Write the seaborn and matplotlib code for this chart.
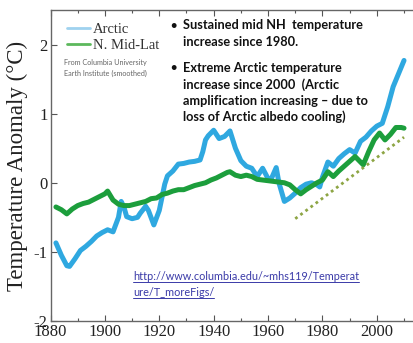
import numpy as np
import pandas as pd
import seaborn as sns
import matplotlib.pyplot as plt
from matplotlib.ticker import MultipleLocator

# ── Data ─────────────────────────────────────────────────────────────────────

arctic_years = [1882, 1884, 1886, 1887, 1889, 1891, 1893, 1895, 1897, 1899,
                1901, 1903, 1905, 1906, 1907, 1908, 1910, 1912, 1913, 1915,
                1916, 1918, 1920, 1922, 1923, 1925, 1927, 1929, 1931, 1933,
                1935, 1936, 1937, 1938, 1940, 1942, 1944, 1946, 1948, 1950,
                1952, 1954, 1956, 1958, 1960, 1961, 1963, 1964, 1966, 1968,
                1970, 1972, 1974, 1976, 1978, 1979, 1980, 1982, 1984, 1986,
                1988, 1990, 1992, 1994, 1996, 1998, 2000, 2002, 2004, 2006,
                2008, 2010]
arctic_vals = [-0.87, -1.05, -1.20, -1.21, -1.10, -0.98, -0.92, -0.85, -0.77, -0.72,
               -0.68, -0.71, -0.50, -0.27, -0.35, -0.49, -0.52, -0.50, -0.44, -0.34,
               -0.40, -0.61, -0.40, -0.02, 0.10, 0.17, 0.27, 0.28, 0.30, 0.31,
               0.33, 0.45, 0.62, 0.68, 0.76, 0.64, 0.67, 0.75, 0.50, 0.32,
               0.24, 0.21, 0.09, 0.21, 0.06, 0.04, 0.22, 0.00, -0.27, -0.22,
               -0.15, -0.07, -0.02, 0.00, -0.03, -0.06, 0.08, 0.30, 0.24, 0.35,
               0.42, 0.48, 0.43, 0.60, 0.66, 0.75, 0.82, 0.86, 1.10, 1.39,
               1.58, 1.77]

midlat_years = [1882, 1884, 1886, 1888, 1890, 1892, 1894, 1896, 1898, 1900,
                1901, 1903, 1905, 1907, 1909, 1911, 1913, 1915, 1917, 1919,
                1921, 1923, 1925, 1927, 1929, 1931, 1933, 1935, 1937, 1939,
                1941, 1943, 1945, 1946, 1948, 1950, 1952, 1954, 1956, 1958,
                1960, 1962, 1964, 1966, 1968, 1970, 1972, 1974, 1976, 1978,
                1980, 1982, 1984, 1986, 1988, 1990, 1992, 1994, 1995, 1997,
                1999, 2001, 2003, 2005, 2007, 2009, 2010]
midlat_vals = [-0.35, -0.39, -0.45, -0.38, -0.33, -0.30, -0.28, -0.24, -0.20, -0.16,
               -0.12, -0.25, -0.31, -0.33, -0.33, -0.31, -0.29, -0.27, -0.23, -0.22,
               -0.17, -0.15, -0.12, -0.10, -0.10, -0.07, -0.04, -0.02, 0.00, 0.04,
               0.07, 0.11, 0.15, 0.16, 0.11, 0.09, 0.11, 0.09, 0.05, 0.04,
               0.03, 0.02, 0.01, 0.00, -0.03, -0.10, -0.16, -0.10, -0.05, 0.00,
               0.04, 0.16, 0.09, 0.17, 0.24, 0.31, 0.38, 0.30, 0.26, 0.45,
               0.62, 0.72, 0.62, 0.70, 0.80, 0.80, 0.79]

trend_years = [1970, 2010]
trend_vals = [-0.52, 0.66]

series_labels = ['Arctic', 'N. Mid-Lat']
x_ticks = [1880, 1900, 1920, 1940, 1960, 1980, 2000]
y_ticks = [-2, -1, 0, 1, 2]

BLUE = '#2fa8e0'
GREEN = '#1c9e3c'

# ── Plot ─────────────────────────────────────────────────────────────────────

sns.set_style('white')
plt.rcParams['axes.unicode_minus'] = False

W, H = 413, 343
fig = plt.figure(figsize=(W / 100, H / 100), dpi=100)
ax = fig.add_axes([50.5 / W, (H - 321) / H, (W - 50.5) / W, 311 / H])

arctic = pd.DataFrame({'year': arctic_years, 'anom': arctic_vals})
midlat = pd.DataFrame({'year': midlat_years, 'anom': midlat_vals})
trend = pd.DataFrame({'year': trend_years, 'anom': trend_vals})

sns.lineplot(data=arctic, x='year', y='anom', color=BLUE, lw=3.6,
             label=series_labels[0], ax=ax, zorder=2)
sns.lineplot(data=midlat, x='year', y='anom', color=GREEN, lw=3.6,
             label=series_labels[1], ax=ax, zorder=3)
sns.lineplot(data=trend, x='year', y='anom', color='#8da544', lw=2.0,
             linestyle=(0, (1, 1.3)), ax=ax, zorder=4)

ax.set_xlim(1880, 2013.3)
ax.set_ylim(-2, 2.5)
ax.set_xticks(x_ticks)
ax.xaxis.set_minor_locator(MultipleLocator(10))
ax.set_yticks(y_ticks)

serif = ['Liberation Serif', 'DejaVu Serif']
ax.set_xlabel('')
ax.set_ylabel('Temperature Anomaly (°C)', family=serif, fontsize=16.5,
              color='#222222', labelpad=4)
for lab in ax.get_xticklabels() + ax.get_yticklabels():
    lab.set_family(serif)
    lab.set_fontsize(12)
    lab.set_color('#222222')

ax.tick_params(which='both', direction='in', top=True, bottom=True, left=True,
               right=False, color='#555555', pad=2)
ax.tick_params(which='major', length=4, width=0.8)
ax.tick_params(which='minor', length=2.5, width=0.8)
for side in ['left', 'bottom', 'top']:
    ax.spines[side].set_color('#666666')
    ax.spines[side].set_linewidth(1.0)
ax.spines['right'].set_visible(False)

leg = ax.legend(loc='upper left', bbox_to_anchor=(67 / W, 1 - 23 / H),
                bbox_transform=fig.transFigure, frameon=False,
                prop={'family': serif, 'size': 10.5}, handlelength=1.6,
                handletextpad=0.15, labelspacing=0.15, borderpad=0,
                borderaxespad=0)
for h, c in zip(leg.get_lines(), ['#9fd2ef', '#5cb85c']):
    h.set_linewidth(2)
    h.set_color(c)
for t in leg.get_texts():
    t.set_color('#333333')

fig.text(64 / W, 1 - 68 / H, 'From Columbia University\nEarth Institute (smoothed)',
         family=['Lato', 'DejaVu Sans'], fontsize=5.2, color='#666666',
         va='center', linespacing=1.55)

# bullet notes
bold = ['Lato', 'DejaVu Sans']
notes = [
    (25, True, 'Sustained mid NH  temperature'),
    (42, False, 'increase since 1980.'),
    (68, True, 'Extreme Arctic temperature'),
    (85, False, 'increase since 2000  (Arctic'),
    (101, False, 'amplification increasing \u2013 due to'),
    (117, False, 'loss of Arctic albedo cooling)'),
]
for py, bullet, txt in notes:
    if bullet:
        fig.text(170 / W, 1 - py / H, '\u2022', family=bold, fontsize=8,
                 fontweight='bold', color='#111111', va='center')
    fig.text(183 / W, 1 - py / H, txt, family=bold, fontsize=9.2,
             fontweight='bold', color='#111111', va='center')

# link text, underlined
link_color = '#3a3aa8'
link_texts = []
for py, txt in [(277, 'http://www.columbia.edu/~mhs119/Temperat'),
                (293, 'ure/T_moreFigs/')]:
    link_texts.append(fig.text(133 / W, 1 - py / H, txt, family=bold,
                               fontsize=7.8, color=link_color, va='center'))

fig.canvas.draw()
renderer = fig.canvas.get_renderer()
inv = fig.transFigure.inverted()
for t in link_texts:
    bb = t.get_window_extent(renderer)
    (x0, y0), (x1, _) = inv.transform([(bb.x0, bb.y0), (bb.x1, bb.y1)])
    fig.add_artist(plt.Line2D([x0, x1], [y0 + 1 / H, y0 + 1 / H],
                              transform=fig.transFigure, color=link_color, lw=0.7))

fig.savefig('out.png', dpi=100)
